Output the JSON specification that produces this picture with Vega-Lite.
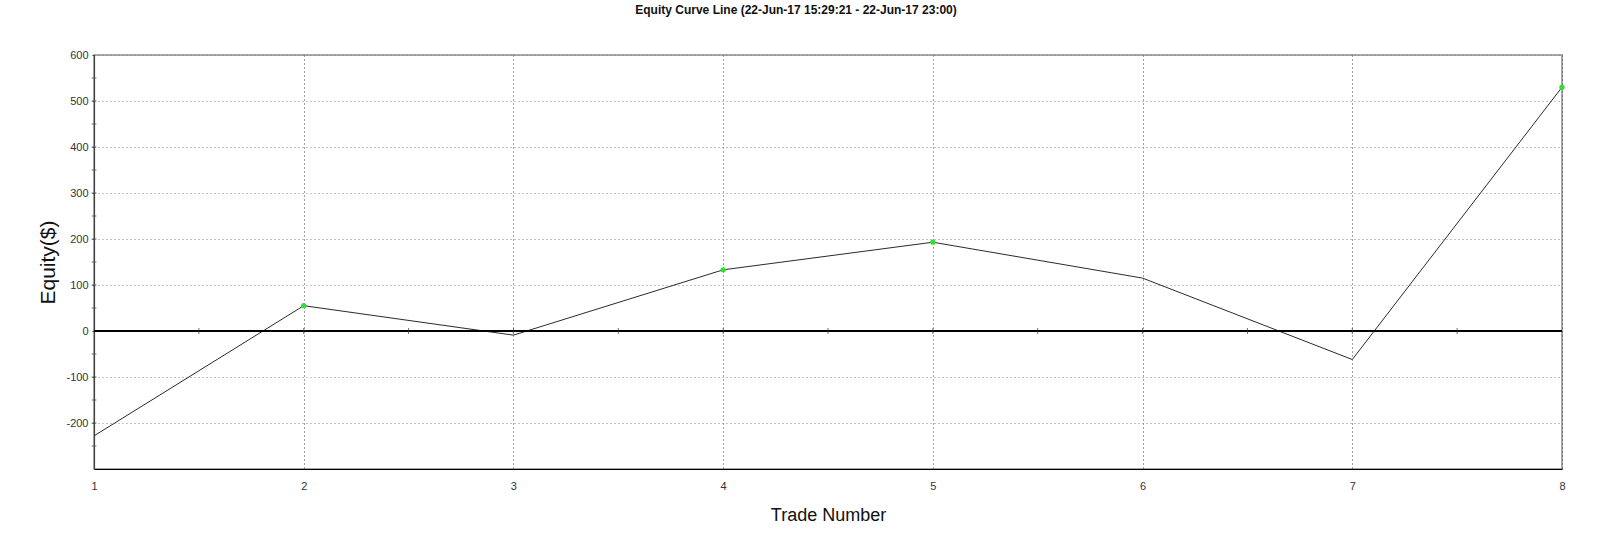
{
  "$schema": "https://vega.github.io/schema/vega-lite/v6.json",
  "width": 1468,
  "height": 414,
  "autosize": {"type": "none"},
  "padding": {"left": 94, "top": 55, "right": 38, "bottom": 68},
  "background": "white",
  "title": {
    "text": "Equity Curve Line (22-Jun-17 15:29:21 - 22-Jun-17 23:00)",
    "font": "Liberation Sans",
    "fontSize": 12,
    "fontWeight": "bold",
    "color": "#111",
    "anchor": "middle",
    "frame": "group",
    "dx": -32,
    "baseline": "alphabetic",
    "offset": 23
  },
  "config": {
    "view": {"stroke": "#8a8a8a", "strokeWidth": 1.5},
    "axis": {
      "labelFont": "Liberation Sans",
      "labelFontSize": 11,
      "labelColor": "#333",
      "titleFont": "Liberation Sans",
      "titleFontWeight": "normal",
      "titleColor": "#111",
      "gridDash": [1, 3],
      "gridWidth": 1
    }
  },
  "datasets": {
    "equity": [
      {"trade": 1, "equity": -228, "result": "loss"},
      {"trade": 2, "equity": 55, "result": "win"},
      {"trade": 3, "equity": -9, "result": "loss"},
      {"trade": 4, "equity": 133, "result": "win"},
      {"trade": 5, "equity": 193, "result": "win"},
      {"trade": 6, "equity": 115, "result": "loss"},
      {"trade": 7, "equity": -62, "result": "loss"},
      {"trade": 8, "equity": 530, "result": "win"}
    ],
    "zeroTicks": [
      {"trade": 1.5}, {"trade": 2}, {"trade": 2.5}, {"trade": 3}, {"trade": 3.5},
      {"trade": 4}, {"trade": 4.5}, {"trade": 5}, {"trade": 5.5}, {"trade": 6},
      {"trade": 6.5}, {"trade": 7}, {"trade": 7.5}
    ],
    "equityTicks": [
      {"equity": -250}, {"equity": -200}, {"equity": -150}, {"equity": -100}, {"equity": -50},
      {"equity": 50}, {"equity": 100}, {"equity": 150}, {"equity": 200}, {"equity": 250},
      {"equity": 300}, {"equity": 350}, {"equity": 400}, {"equity": 450}, {"equity": 500}, {"equity": 550}
    ]
  },
  "layer": [
    {
      "data": {"name": "equity"},
      "mark": {"type": "line", "color": "#2a2a2a", "strokeWidth": 1},
      "encoding": {
        "x": {
          "field": "trade",
          "type": "quantitative",
          "scale": {"domain": [1, 8], "nice": false, "zero": false},
          "axis": {
            "title": "Trade Number",
            "titleFontSize": 18,
            "titlePadding": 15,
            "values": [2, 3, 4, 5, 6, 7, 1, 8],
            "format": "d",
            "labelFlush": false,
            "labelPadding": 11,
            "tickSize": 0,
            "domainColor": "#000",
            "domainWidth": 1.2,
            "gridColor": "#444"
          }
        },
        "y": {
          "field": "equity",
          "type": "quantitative",
          "scale": {"domain": [-300, 600], "nice": false, "zero": false},
          "axis": {
            "title": "Equity($)",
            "titleFontSize": 21,
            "titlePadding": 7,
            "values": [-200, -100, 0, 100, 200, 300, 400, 500, 600],
            "format": "d",
            "labelExpr": "replace(datum.label, '\u2212', '-')",
            "labelOverlap": false,
            "labelPadding": 4,
            "tickSize": 2,
            "tickColor": "#444",
            "domainColor": "#444",
            "domainWidth": 1.2,
            "gridColor": "#888"
          }
        }
      }
    },
    {
      "data": {"name": "equity"},
      "mark": {"type": "rule", "color": "#000", "strokeWidth": 1},
      "encoding": {"y": {"datum": 0, "type": "quantitative"}}
    },
    {
      "data": {"name": "zeroTicks"},
      "mark": {"type": "tick", "orient": "vertical", "color": "#333", "size": 6, "thickness": 1},
      "encoding": {
        "x": {"field": "trade", "type": "quantitative"},
        "y": {"datum": 0, "type": "quantitative"}
      }
    },
    {
      "data": {"name": "equityTicks"},
      "mark": {"type": "tick", "orient": "horizontal", "color": "#444", "size": 5, "thickness": 1},
      "encoding": {
        "x": {"datum": 1, "type": "quantitative"},
        "y": {"field": "equity", "type": "quantitative"}
      }
    },
    {
      "data": {"name": "equity"},
      "transform": [{"filter": "datum.result == 'win'"}],
      "mark": {"type": "point", "filled": true, "color": "#2fe02f", "size": 28, "opacity": 1},
      "encoding": {
        "x": {"field": "trade", "type": "quantitative"},
        "y": {"field": "equity", "type": "quantitative"}
      }
    }
  ]
}
